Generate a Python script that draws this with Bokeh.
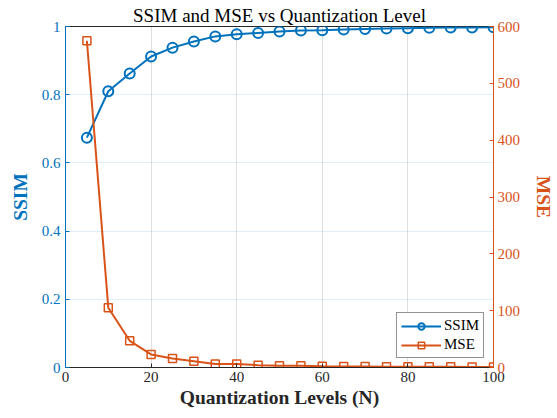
from bokeh.plotting import figure
from bokeh.models import LinearAxis, Range1d, FixedTicker, Legend, LegendItem
from bokeh.embed import file_html
from bokeh.resources import INLINE

levels = [5, 10, 15, 20, 25, 30, 35, 40, 45, 50, 55, 60, 65, 70, 75, 80, 85, 90, 95, 100]
ssim = [0.674, 0.810, 0.862, 0.912, 0.938, 0.956, 0.971, 0.977, 0.981, 0.985,
        0.988, 0.989, 0.991, 0.993, 0.994, 0.995, 0.996, 0.997, 0.997, 0.998]
mse = [575, 105, 47, 23, 16, 11, 6, 6, 4, 3, 3, 2, 1.8, 1.6, 1.4, 1.3, 1.2, 1.1, 1.0, 1.0]
x_ticks = [0, 20, 40, 60, 80, 100]
ssim_ticks = [0, 0.2, 0.4, 0.6, 0.8, 1]
mse_ticks = [0, 100, 200, 300, 400, 500, 600]

BLUE = "#0072BD"
ORANGE = "#D95319"
DARK = "#262626"
FONT = "Liberation Serif"

p = figure(width=557, height=418, output_backend="svg", toolbar_location=None,
           x_range=Range1d(0, 100), y_range=Range1d(0, 1),
           title="SSIM and MSE vs Quantization Level",
           min_border_left=65, min_border_right=62, min_border_top=26, min_border_bottom=51)
p.extra_y_ranges = {"mse": Range1d(0, 600)}

p.title.text_font = FONT
p.title.text_font_size = "19px"
p.title.text_font_style = "normal"
p.title.align = "center"
p.title.text_color = "#000000"
p.title.standoff = 2

p.outline_line_color = DARK
p.outline_line_width = 1
p.background_fill_color = "white"
p.border_fill_color = "white"

# x axis
xa = p.xaxis[0]
xa.ticker = FixedTicker(ticks=x_ticks)
xa.axis_label = "Quantization Levels (N)"
xa.axis_label_text_font = FONT
xa.axis_label_text_font_style = "bold"
xa.axis_label_text_font_size = "19.5px"
xa.axis_label_text_color = DARK
xa.axis_label_standoff = 2
xa.major_label_text_font = FONT
xa.major_label_text_font_size = "15px"
xa.major_label_text_color = DARK
xa.major_label_standoff = 4
xa.axis_line_color = DARK
xa.major_tick_line_color = DARK
xa.major_tick_in = 4
xa.major_tick_out = 0
xa.minor_tick_line_color = None

# left axis
ya = p.yaxis[0]
ya.ticker = FixedTicker(ticks=ssim_ticks)
ya.axis_label = "SSIM"
ya.axis_label_text_font = FONT
ya.axis_label_text_font_style = "bold"
ya.axis_label_text_font_size = "19.5px"
ya.axis_label_text_color = BLUE
ya.axis_label_standoff = 8
ya.major_label_text_font = FONT
ya.major_label_text_font_size = "15px"
ya.major_label_text_color = BLUE
ya.major_label_standoff = 5
ya.axis_line_color = BLUE
ya.major_tick_line_color = BLUE
ya.major_tick_in = 4
ya.major_tick_out = 0
ya.minor_tick_line_color = None

# right axis
ra = LinearAxis(y_range_name="mse", ticker=FixedTicker(ticks=mse_ticks))
ra.axis_label = "MSE"
ra.axis_label_text_font = FONT
ra.axis_label_text_font_style = "bold"
ra.axis_label_text_font_size = "19.5px"
ra.axis_label_text_color = ORANGE
ra.axis_label_standoff = 10
ra.major_label_text_font = FONT
ra.major_label_text_font_size = "15px"
ra.major_label_text_color = ORANGE
ra.major_label_standoff = 4
ra.axis_line_color = ORANGE
ra.major_tick_line_color = ORANGE
ra.major_tick_in = 4
ra.major_tick_out = 0
ra.minor_tick_line_color = None
p.add_layout(ra, "right")

# grids
p.xgrid.grid_line_color = DARK
p.xgrid.grid_line_alpha = 0.15
p.xgrid.ticker = FixedTicker(ticks=x_ticks)
p.ygrid.grid_line_color = BLUE
p.ygrid.grid_line_alpha = 0.12
p.ygrid.ticker = FixedTicker(ticks=ssim_ticks)

l1 = p.line(levels, ssim, line_color=BLUE, line_width=2)
s1 = p.scatter(levels, ssim, marker="circle", size=10, line_color=BLUE, line_width=2,
               fill_color=None)
l2 = p.line(levels, mse, line_color=ORANGE, line_width=2, y_range_name="mse")
s2 = p.scatter(levels, mse, marker="square", size=8, line_color=ORANGE, line_width=1.5,
               fill_color=None, y_range_name="mse")

legend = Legend(items=[LegendItem(label="SSIM", renderers=[l1, s1]),
                       LegendItem(label="MSE", renderers=[l2, s2])],
                location="bottom_right")
legend.label_text_font = FONT
legend.label_text_font_size = "15px"
legend.label_text_color = "#000000"
legend.border_line_color = DARK
legend.border_line_width = 1
legend.background_fill_alpha = 1
legend.glyph_width = 40
legend.glyph_height = 16
legend.label_standoff = 3
legend.padding = 4
legend.spacing = 2
legend.margin = 9
legend.label_height = 16
p.add_layout(legend)

open("out.html", "w").write(file_html(p, INLINE))
